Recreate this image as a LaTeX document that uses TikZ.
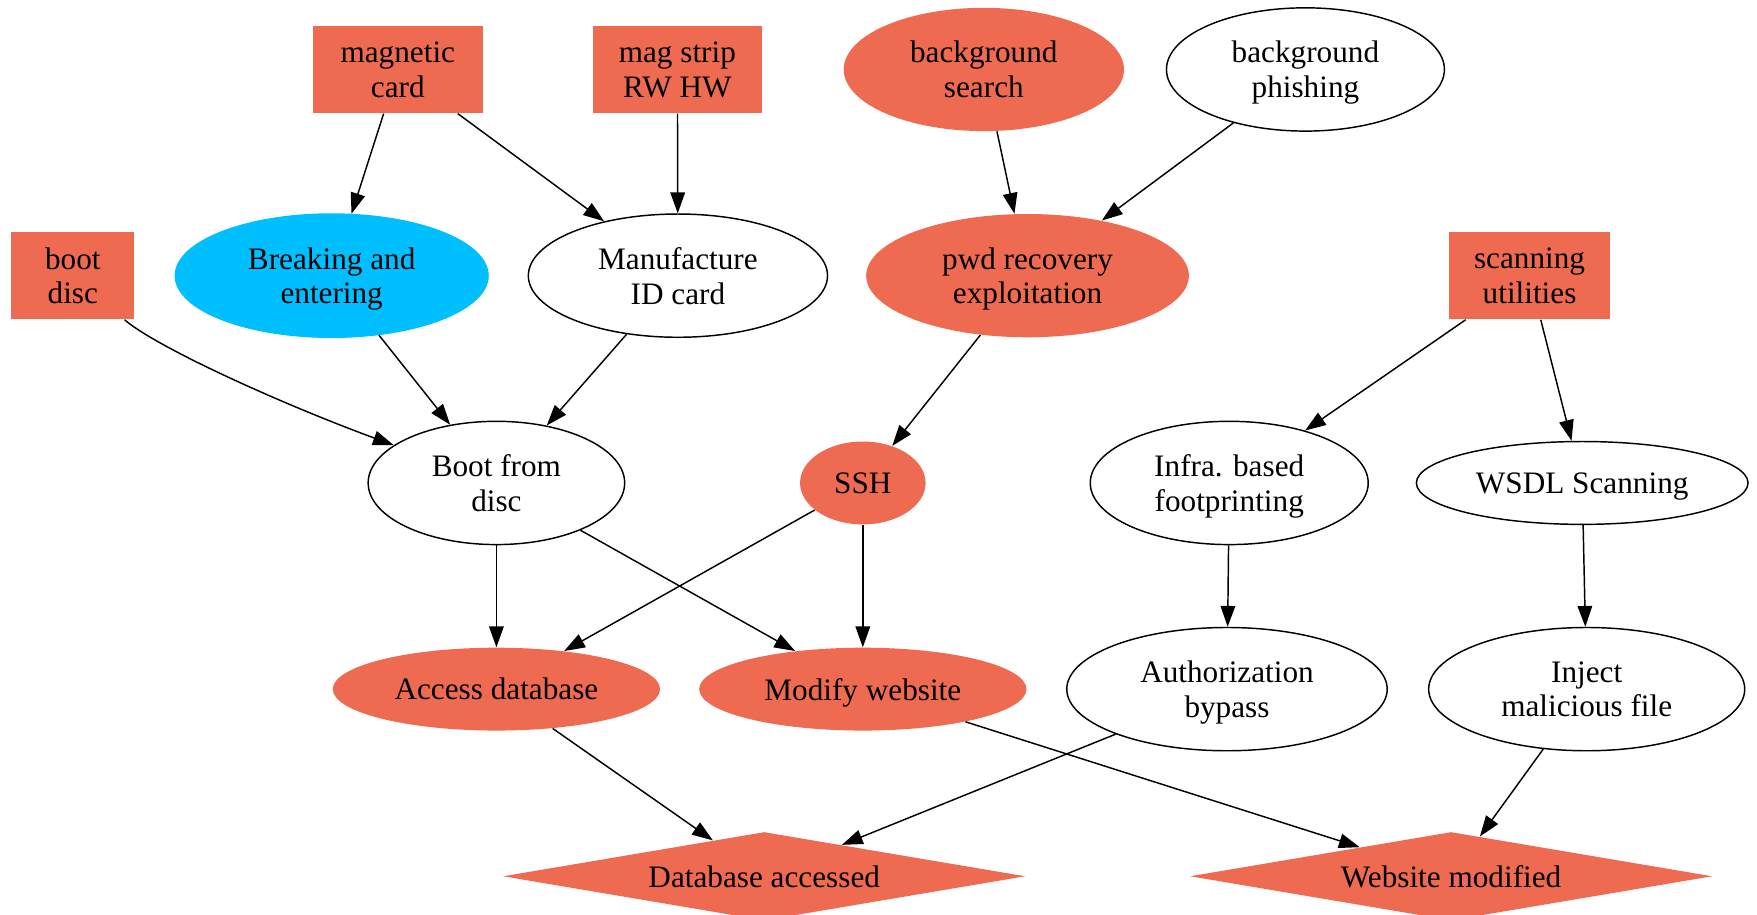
\documentclass[tikz,border=0pt]{standalone}
\usepackage{fontspec}
\setmainfont{Liberation Serif}
\usetikzlibrary{shapes.geometric,arrows.meta}
\definecolor{coral2}{RGB}{238,106,80}
\definecolor{skyblue}{RGB}{0,191,255}

\begin{document}
\begin{tikzpicture}[
    x=0.5382pt, y=-0.5382pt,
    every node/.style={font=\fontsize{15}{16.7}\selectfont, align=center, inner sep=0pt, text depth=0pt},
    leaf/.style={rectangle, fill=coral2, minimum height=42pt},
    oval/.style={ellipse, draw, line width=0.7pt, minimum height=59.2pt},
    hot/.style={ellipse, fill=coral2, minimum height=59.2pt},
    goal/.style={diamond, fill=coral2, shape aspect=5.83, minimum width=250.8pt, minimum height=42.5pt},
    arr/.style={-{Triangle[length=10pt,width=7pt]}, line width=0.7pt}
    ]
  \useasboundingbox (0,0) rectangle (1568,816);
  % top row
  \node [leaf, minimum width=81.8pt] (magcard) at (355,62) {magnetic\\card};
  \node [leaf, minimum width=81.3pt] (magstrip) at (604.5,62) {mag strip\\RW HW};
  \node [hot, minimum width=134.6pt] (bgsearch) at (878,62) {background\\search};
  \node [oval, minimum width=133.5pt] (bgphish) at (1165,62) {background\\phishing};
  % second row
  \node [leaf, minimum width=59.2pt] (bootdisc) at (65,246) {boot\\disc};
  \node [oval, fill=skyblue, draw=skyblue, minimum width=150.2pt] (breakin) at (296,246) {Breaking and\\entering};
  \node [oval, minimum width=143.7pt] (idcard) at (605,246) {Manufacture\\ID card};
  \node [hot, minimum width=155pt] (pwdrec) at (917,246) {pwd recovery\\exploitation};
  \node [leaf, minimum width=77.5pt] (scanutil) at (1365,246) {scanning\\utilities};
  % third row
  \node [oval, minimum width=123.2pt] (bootfrom) at (443,431) {Boot from\\disc};
  \node [hot, minimum width=60.3pt, minimum height=39.8pt] (ssh) at (770,431) {SSH};
  \node [oval, minimum width=133.5pt] (infra) at (1097,431) {Infra. based\\footprinting};
  \node [oval, minimum width=159.3pt, minimum height=39.8pt] (wsdl) at (1412,431) {WSDL Scanning};
  % fourth row
  \node [hot, minimum width=157.2pt, minimum height=39.8pt] (accessdb) at (443,615) {Access database};
  \node [hot, minimum width=157.2pt, minimum height=39.8pt] (modweb) at (770,615) {Modify website};
  \node [oval, minimum width=153.9pt] (authbyp) at (1095,615) {Authorization\\bypass};
  \node [oval, minimum width=151.8pt] (inject) at (1416,615) {Inject\\malicious file};
  % goals
  \node [goal] (dbacc) at (682,782) {Database accessed};
  \node [goal] (webmod) at (1295,782) {Website modified};

  \draw [arr] (magcard) -- (breakin);
  \draw [arr] (magcard) -- (idcard);
  \draw [arr] (magstrip) -- (idcard);
  \draw [arr] (bgsearch) -- (pwdrec);
  \draw [arr] (bgphish) -- (pwdrec);
  \draw [arr] (bootdisc) .. controls (140,310) and (250,360) .. (bootfrom);
  \draw [arr] (breakin) -- (bootfrom);
  \draw [arr] (idcard) -- (bootfrom);
  \draw [arr] (pwdrec) -- (ssh);
  \draw [arr] (scanutil) -- (infra);
  \draw [arr] (scanutil) -- (wsdl);
  \draw [arr] (bootfrom) -- (accessdb);
  \draw [arr] (bootfrom) -- (modweb);
  \draw [arr] (ssh) -- (accessdb);
  \draw [arr] (ssh) -- (modweb);
  \draw [arr] (infra) -- (authbyp);
  \draw [arr] (wsdl) -- (inject);
  \draw [arr] (accessdb) -- (dbacc);
  \draw [arr] (authbyp) -- (dbacc);
  \draw [arr] (modweb) -- (webmod);
  \draw [arr] (inject) -- (webmod);
\end{tikzpicture}
\end{document}
